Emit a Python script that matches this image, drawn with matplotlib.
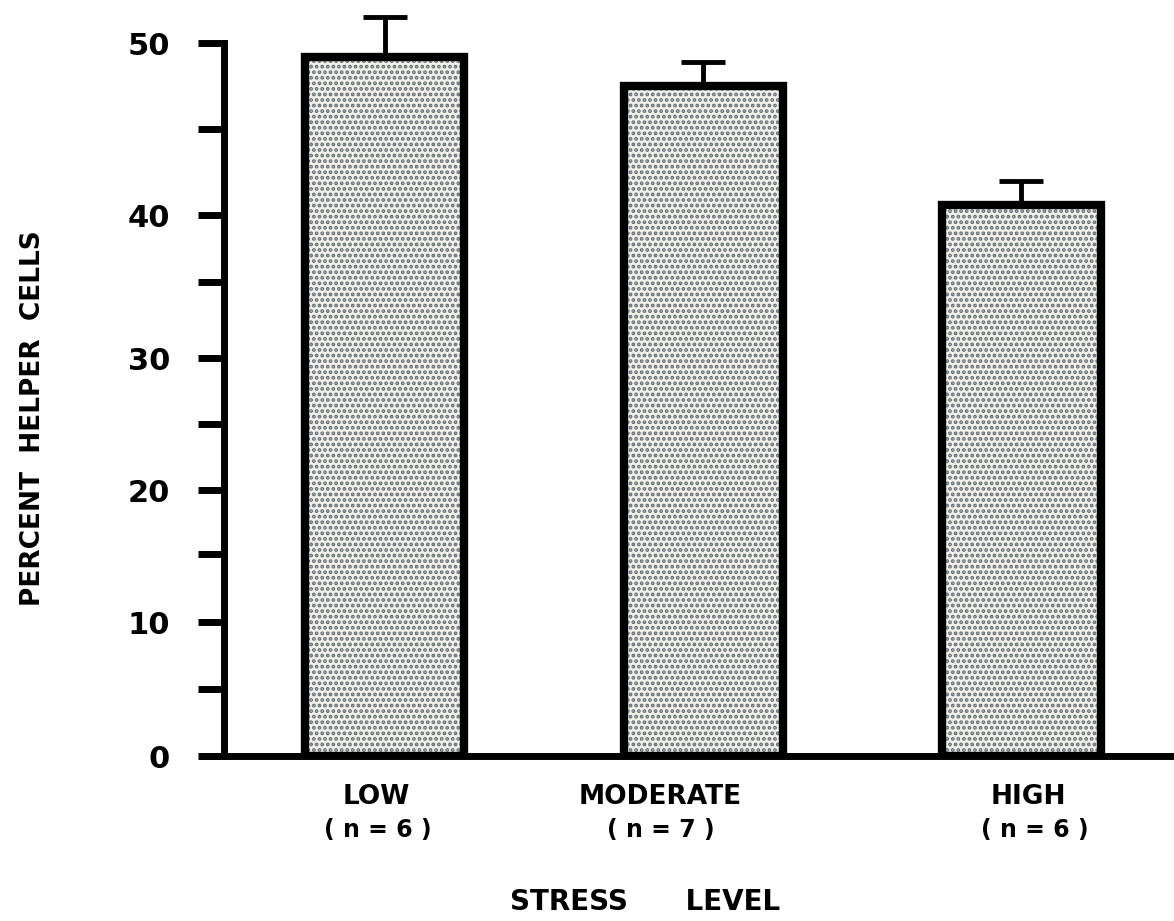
import numpy as np
import matplotlib
matplotlib.use("Agg")
import matplotlib.pyplot as plt
from matplotlib.ticker import NullLocator

# ---------------- data ----------------
categories = ["LOW", "MODERATE", "HIGH"]
group_sizes = ["( n = 6 )", "( n = 7 )", "( n = 6 )"]
means = [49.2, 47.5, 40.6]
upper_err = [2.3, 1.4, 1.4]
ytick_values = [0, 5, 10, 15, 20, 25, 30, 35, 40, 45, 50]
ytick_labels = ["0", "", "10", "", "20", "", "30", "", "40", "", "50"]

# uneven hand-drawn ruler of the original axis (value -> height in px)
ruler_values = [-5, 0, 5, 10, 15, 20, 25, 30, 35, 40, 45, 50, 55]
ruler_pos = [-67, 0, 67, 134, 202, 266, 332, 398, 474, 541, 627, 713, 799]

# label nudges (data units) relative to bar centres
name_shift = [-0.028, -0.135, 0.022]
n_shift = [-0.022, -0.132, 0.044]


def forward(v):
    return np.interp(v, ruler_values, ruler_pos)


def inverse(p):
    return np.interp(p, ruler_pos, ruler_values)


plt.rcParams["hatch.linewidth"] = 1.9

fig = plt.figure(figsize=(11.74, 9.21), dpi=100)
ax = fig.add_axes([207 / 1174, 165 / 921, 967 / 1174, 756 / 921])
ax.set_yscale("function", functions=(forward, inverse))

x = np.arange(len(categories))
ax.bar(x, means, width=0.5, facecolor="#f2f1e8", edgecolor="#66707c",
       hatch="...", linewidth=0, zorder=2)
ax.errorbar(x, means, yerr=[np.zeros(len(means)), upper_err], fmt="none",
            ecolor="black", elinewidth=3.5, capsize=16, capthick=3.5, zorder=2.5)
ax.bar(x, means, width=0.5, fill=False, edgecolor="black", linewidth=6, zorder=3)

ax.set_xlim(-0.5597, 2.481)
ax.set_ylim(0, 52.5)

for s in ("top", "right"):
    ax.spines[s].set_visible(False)
ax.spines["left"].set_position(("data", -0.506))
ax.spines["left"].set_bounds(0, 50)
ax.spines["left"].set_linewidth(5)
ax.spines["bottom"].set_linewidth(5)
ax.spines["bottom"].set_zorder(4)

ax.set_xticks([])
ax.set_yticks(ytick_values, ytick_labels)
ax.yaxis.set_minor_locator(NullLocator())
ax.tick_params(axis="y", direction="out", length=19, width=5, pad=20,
               labelsize=22)
for lbl in ax.get_yticklabels():
    lbl.set_fontweight("bold")

for i in range(len(categories)):
    ax.annotate(categories[i], xy=(i + name_shift[i], 0),
                xycoords=("data", "axes fraction"), xytext=(0, -41 * 0.72),
                textcoords="offset points", ha="center", va="center",
                fontsize=19, fontweight="bold", annotation_clip=False)
    ax.annotate(group_sizes[i], xy=(i + n_shift[i], 0),
                xycoords=("data", "axes fraction"), xytext=(0, -74 * 0.72),
                textcoords="offset points", ha="center", va="center",
                fontsize=17, fontweight="bold", annotation_clip=False)

fig.text(645 / 1174, 1 - 902 / 921, "STRESS      LEVEL", ha="center",
         va="center", fontsize=20, fontweight="bold")
fig.text(33 / 1174, 1 - 418 / 921, "PERCENT  HELPER  CELLS", rotation=90,
         ha="center", va="center", fontsize=19, fontweight="bold")

fig.savefig("out.png", dpi=100)
